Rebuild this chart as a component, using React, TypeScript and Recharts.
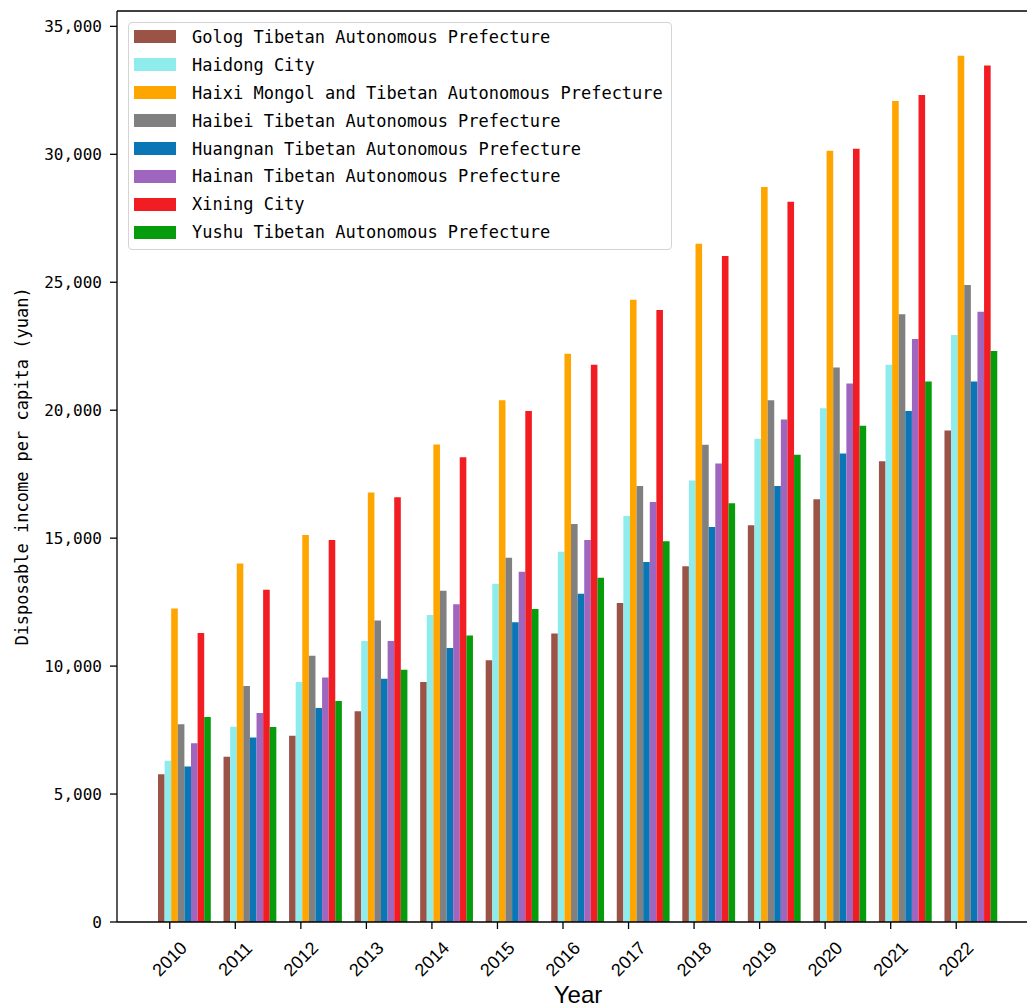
import { BarChart, Bar, XAxis, YAxis, Legend, ReferenceLine } from 'recharts';

const years = ['2010', '2011', '2012', '2013', '2014', '2015', '2016', '2017', '2018', '2019', '2020', '2021', '2022'];

const seriesNames = [
  'Golog Tibetan Autonomous Prefecture',
  'Haidong City',
  'Haixi Mongol and Tibetan Autonomous Prefecture',
  'Haibei Tibetan Autonomous Prefecture',
  'Huangnan Tibetan Autonomous Prefecture',
  'Hainan Tibetan Autonomous Prefecture',
  'Xining City',
  'Yushu Tibetan Autonomous Prefecture',
];

// disposable income per capita (yuan)
const golog = [5770, 6460, 7275, 8235, 9380, 10230, 11275, 12470, 13905, 15500, 16520, 18010, 19210];
const haidong = [6300, 7630, 9380, 10980, 12000, 13220, 14470, 15865, 17255, 18885, 20075, 21780, 22940];
const haixi = [12250, 14010, 15120, 16785, 18655, 20390, 22205, 24320, 26500, 28720, 30140, 32085, 33855];
const haibei = [7730, 9225, 10405, 11780, 12940, 14235, 15550, 17040, 18650, 20390, 21670, 23750, 24890];
const huangnan = [6080, 7210, 8365, 9510, 10705, 11715, 12825, 14065, 15440, 17040, 18305, 19965, 21120];
const hainan = [6990, 8170, 9550, 10980, 12420, 13685, 14925, 16410, 17915, 19635, 21045, 22780, 23850];
const xining = [11290, 12980, 14925, 16600, 18160, 19965, 21780, 23920, 26030, 28150, 30215, 32320, 33475];
const yushu = [8015, 7625, 8640, 9860, 11195, 12230, 13455, 14875, 16365, 18255, 19390, 21120, 22315];

const yTicks = [0, 5000, 10000, 15000, 20000, 25000, 30000, 35000];

const colors = ['#9b5247', '#8eecec', '#ffa500', '#808080', '#0b76b6', '#9e66be', '#f21d22', '#069c0c'];

const seriesValues = [golog, haidong, haixi, haibei, huangnan, hainan, xining, yushu];

const data = years.map((year, i) => {
  const row: Record<string, string | number> = { year };
  seriesNames.forEach((name, j) => {
    row[name] = seriesValues[j][i];
  });
  return row;
});

const Y_MAX = 35600;
const MONO = '"DejaVu Sans Mono", "Liberation Mono", monospace';
const SANS = '"Liberation Sans", Arial, sans-serif';

const XTick = (props: any) => {
  const { x, y, payload } = props;
  const tx = x - 15;
  const ty = y + 37;
  return (
    <g>
      <line x1={tx} x2={tx} y1={y} y2={y + 7} stroke="#000" strokeWidth={1.3} />
      <text
        x={tx}
        y={ty}
        transform={`rotate(-45 ${tx} ${ty})`}
        textAnchor="middle"
        dominantBaseline="central"
        fontFamily={SANS}
        fontSize={18}
        fill="#000"
      >
        {payload.value}
      </text>
    </g>
  );
};

const renderLegend = (props: any) => {
  const entries = [...(props.payload || [])].sort(
    (a: any, b: any) => seriesNames.indexOf(a.value) - seriesNames.indexOf(b.value),
  );
  return (
    <div
      style={{
        width: 544,
        height: 228,
        boxSizing: 'border-box',
        border: '1px solid #d4d4d4',
        borderRadius: 4,
        background: '#fff',
        paddingLeft: 5,
        fontFamily: MONO,
        fontSize: 17,
        color: '#000',
      }}
    >
      {entries.map((entry: any) => (
        <div key={entry.value} style={{ display: 'flex', alignItems: 'center', height: 27.9 }}>
          <span style={{ display: 'inline-block', width: 42, height: 13, background: entry.color, marginRight: 16 }} />
          <span style={{ whiteSpace: 'pre' }}>{entry.value}</span>
        </div>
      ))}
    </div>
  );
};

export default function App() {
  return (
    <div style={{ position: 'fixed', left: 0, top: 0, width: 1027, height: 1007, overflow: 'hidden', background: '#fff' }}>
      <BarChart
        width={1060}
        height={1007}
        data={data}
        margin={{ top: 11, right: 21, bottom: 0, left: 0 }}
        barGap={0}
      >
        <XAxis
          dataKey="year"
          height={85}
          interval={0}
          padding={{ left: 35, right: 35 }}
          tick={<XTick />}
          tickLine={false}
          tickSize={0}
          tickMargin={0}
          axisLine={{ stroke: '#000', strokeWidth: 1.3 }}
          label={{
            content: (p: any) => {
              const vb = p.viewBox;
              return (
                <text x={vb.x + vb.width / 2} y={vb.y + 81} textAnchor="middle" fontFamily={SANS} fontSize={24} fill="#000">
                  Year
                </text>
              );
            },
          }}
        />
        <YAxis
          width={117}
          domain={[0, Y_MAX]}
          ticks={yTicks}
          allowDataOverflow
          tickFormatter={(v: number) => v.toLocaleString('en-US')}
          tick={{ fontFamily: MONO, fontSize: 16, fill: '#000' }}
          tickSize={7}
          tickMargin={8}
          tickLine={{ stroke: '#000', strokeWidth: 1.3 }}
          axisLine={{ stroke: '#000', strokeWidth: 1.3 }}
          label={{
            content: (p: any) => {
              const vb = p.viewBox;
              const cx = 22;
              const cy = vb.y + vb.height / 2;
              return (
                <text
                  x={cx}
                  y={cy}
                  transform={`rotate(-90 ${cx} ${cy})`}
                  textAnchor="middle"
                  dominantBaseline="central"
                  fontFamily={MONO}
                  fontSize={17}
                  fill="#000"
                >
                  Disposable income per capita (yuan)
                </text>
              );
            },
          }}
        />
        <ReferenceLine y={Y_MAX} stroke="#000" strokeWidth={1.3} />
        <Legend
          layout="vertical"
          align="center"
          verticalAlign="middle"
          content={renderLegend}
          wrapperStyle={{ left: 128, top: 22, width: 544, height: 228 }}
        />
        {seriesNames.map((name, i) => (
          <Bar key={name} dataKey={name} fill={colors[i]} barSize={6.6} isAnimationActive={false} />
        ))}
      </BarChart>
    </div>
  );
}
